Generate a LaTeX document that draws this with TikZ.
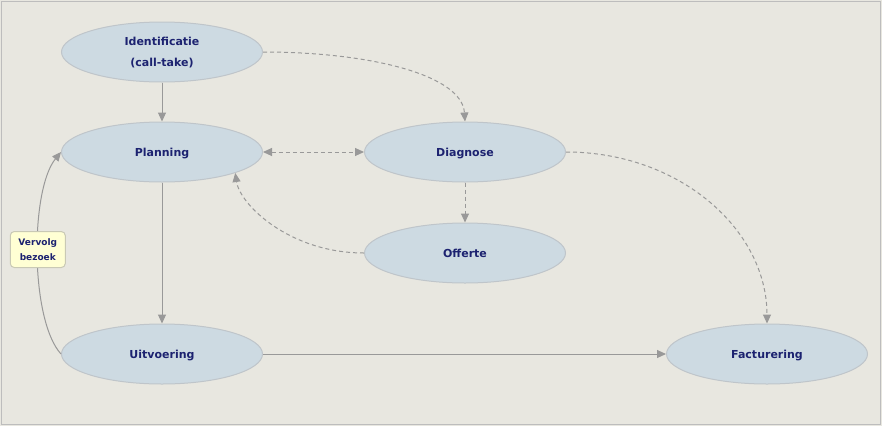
\documentclass[tikz,border=0pt]{standalone}
\usepackage{fontspec}
\setmainfont{DejaVu Sans}
\usetikzlibrary{shapes.geometric,arrows.meta}
\definecolor{bg}{HTML}{E8E7E0}
\definecolor{frame}{HTML}{BDBDBD}
\definecolor{efill}{HTML}{CDDAE2}
\definecolor{edraw}{HTML}{BFC5CA}
\definecolor{txt}{HTML}{1C2270}
\definecolor{conn}{HTML}{999999}
\definecolor{yfill}{HTML}{FFFFD4}
\definecolor{ydraw}{HTML}{C9C9B5}
\tikzset{
  proc/.style={ellipse, fill=efill, draw=edraw, line width=1pt, minimum width=201pt, minimum height=60pt, inner sep=0pt, text=txt, font=\bfseries\fontsize{11}{21}\selectfont, align=center, text depth=0pt},
  note/.style={rounded corners=4pt, fill=yfill, draw=ydraw, line width=1pt, minimum width=55pt, minimum height=36pt, inner sep=0pt, text=txt, font=\bfseries\fontsize{9}{15}\selectfont, align=center, text depth=0pt},
  link/.style={draw=conn, line width=1pt, -{Triangle[length=9pt,width=8pt]}},
  dlink/.style={link, dash pattern=on 4pt off 3pt},
}
\begin{document}
\begin{tikzpicture}[x=1pt,y=-1pt]
\useasboundingbox (0,0) rectangle (882,426);
\fill[bg] (0,0) rectangle (882,426);
\draw[frame, line width=1pt] (1.5,1.5) rectangle (880.5,424.5);

\node[proc] (ident) at (162,52) {Identificatie\\(call-take)};
\node[proc] (plan) at (162,152) {Planning};
\node[proc] (diag) at (465,152) {Diagnose};
\node[proc] (off) at (465,253) {Offerte};
\node[proc] (uitv) at (162,354) {Uitvoering};
\node[proc] (fact) at (767,354) {Facturering};

\draw[link] (ident.south) -- (plan.north);
\draw[link] (plan.south) -- (uitv.north);
\draw[link] (uitv.east) -- (fact.west);
\draw[dlink] (ident.east) .. controls (370,52) and (462,75) .. (diag.north);
\draw[dlink, {Triangle[length=9pt,width=8pt]}-{Triangle[length=9pt,width=8pt]}] (plan.east) -- (diag.west);
\draw[dlink] (diag.south) -- (off.north);
\draw[dlink] (off.west) .. controls (290,253) and (240,205) .. (plan.-16);
\draw[dlink] (diag.east) .. controls (680,152) and (767,230) .. (fact.north);
\draw[link] (uitv.west) .. controls (30,320) and (30,190) .. (plan.west)
  node[note, pos=0.52] (vervolg) {Vervolg\\bezoek};
\end{tikzpicture}
\end{document}
